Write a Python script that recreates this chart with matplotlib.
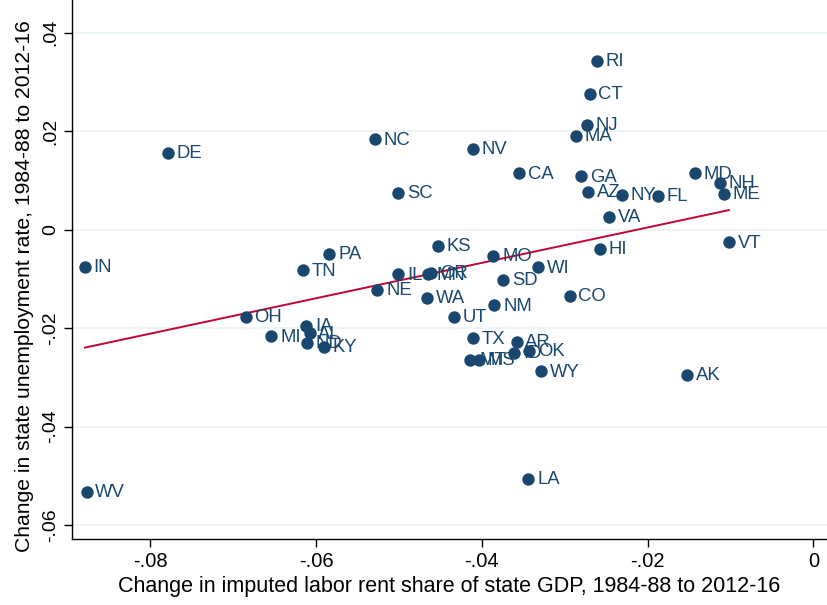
import numpy as np
import matplotlib
matplotlib.use("Agg")
import matplotlib.pyplot as plt

plt.rcParams['font.family'] = ['Liberation Sans', 'DejaVu Sans']

# state labels, change in labor rent share (x), change in unemployment rate (y)
states = ['IN', 'WV', 'DE', 'OH', 'MI', 'IA', 'AL', 'ND', 'KY', 'KS',
          'IL', 'MN', 'OR', 'NE', 'WA', 'UT', 'NM', 'SD', 'MO', 'TX',
          'AR', 'OK', 'ID', 'MT', 'MS', 'WY', 'RI', 'CT', 'NJ', 'MA',
          'NC', 'NV', 'CA', 'GA', 'AZ', 'NY', 'FL', 'MD', 'NH', 'ME',
          'VA', 'SC', 'VT', 'HI', 'PA', 'TN', 'WI', 'CO', 'AK', 'LA']
rent_chg = [-0.0879, -0.0877, -0.0779, -0.0685, -0.0654, -0.0612, -0.0608, -0.0611, -0.0591, -0.0453,
            -0.0501, -0.0465, -0.0461, -0.0526, -0.0466, -0.0434, -0.0385, -0.0374, -0.0386, -0.0411,
            -0.0358, -0.0343, -0.0361, -0.0414, -0.0404, -0.0329, -0.0261, -0.0270, -0.0273, -0.0287,
            -0.0529, -0.0411, -0.0355, -0.0280, -0.0272, -0.0231, -0.0188, -0.0143, -0.0113, -0.0108,
            -0.0246, -0.0501, -0.0102, -0.0258, -0.0584, -0.0616, -0.0332, -0.0294, -0.0152, -0.0344]
unemp_chg = [-0.0076, -0.0532, 0.0155, -0.0178, -0.0217, -0.0196, -0.0211, -0.0231, -0.0239, -0.0033,
             -0.0091, -0.0091, -0.0088, -0.0122, -0.0139, -0.0177, -0.0154, -0.0103, -0.0054, -0.0221,
             -0.0228, -0.0247, -0.0251, -0.0265, -0.0265, -0.0288, 0.0342, 0.0275, 0.0212, 0.0190,
             0.0183, 0.0164, 0.0114, 0.0108, 0.0076, 0.0071, 0.0068, 0.0114, 0.0095, 0.0073,
             0.0026, 0.0074, -0.0026, -0.0040, -0.0049, -0.0083, -0.0077, -0.0135, -0.0296, -0.0507]

x_ticks = [-0.08, -0.06, -0.04, -0.02, 0]
x_ticklabels = ['-.08', '-.06', '-.04', '-.02', '0']
y_ticks = [-0.06, -0.04, -0.02, 0, 0.02, 0.04]
y_ticklabels = ['-.06', '-.04', '-.02', '0', '.02', '.04']

navy = '#1a476f'
red = '#c10534'

x = np.array(rent_chg)
y = np.array(unemp_chg)

fig = plt.figure(figsize=(8.27, 6.05), dpi=100)
ax = fig.add_axes([0.0867, 0.1086, 0.9133, 0.8914])

for t in y_ticks:
    ax.axhline(t, color='#eaf2f3', lw=1.2, zorder=0)

ax.scatter(x, y, s=80, color=navy, zorder=3, linewidths=0)
for s, xi, yi in zip(states, x, y):
    ax.annotate(s, (xi, yi), xytext=(6.3, -0.5), textcoords='offset points',
                va='center', ha='left', fontsize=13.3, color=navy, zorder=4)

# linear fit
b, a = np.polyfit(x, y, 1)
xf = np.array([x.min(), x.max()])
ax.plot(xf, a + b * xf, color=red, lw=1.4, zorder=2)

ax.set_xlim(-0.0895, 0.00165)
ax.set_ylim(-0.0629, 0.0466)
ax.set_xticks(x_ticks)
ax.set_xticklabels(x_ticklabels, fontsize=14.5)
ax.set_yticks(y_ticks)
ax.set_yticklabels(y_ticklabels, rotation=90, va='center', fontsize=14)
ax.tick_params(direction='out', length=6, width=1, pad=3)

for side in ['top', 'right']:
    ax.spines[side].set_visible(False)
ax.spines['left'].set_linewidth(1)
ax.spines['bottom'].set_linewidth(1)

ax.set_xlabel('Change in imputed labor rent share of state GDP, 1984-88 to 2012-16',
              fontsize=15.5, labelpad=4)
ax.set_ylabel('Change in state unemployment rate, 1984-88 to 2012-16',
              fontsize=15.2, labelpad=6)
ax.yaxis.label.set_y(0.47)

fig.savefig('out.png', dpi=100)
